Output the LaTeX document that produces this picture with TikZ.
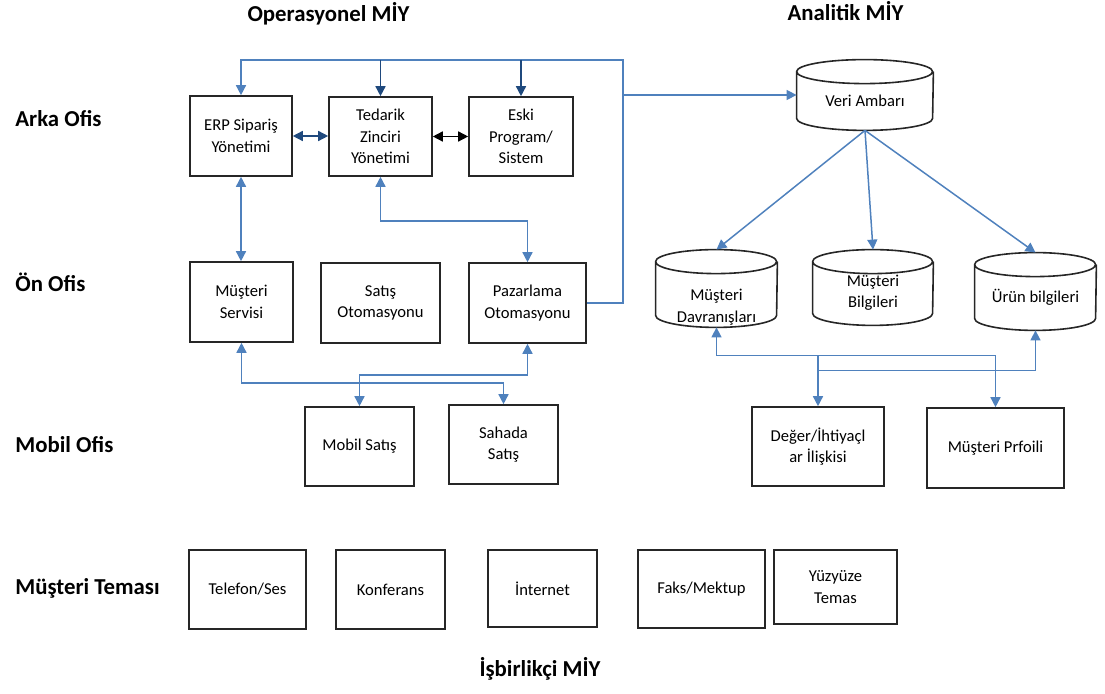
\documentclass[tikz,border=0pt]{standalone}
\usepackage{fontspec}
\setmainfont{Carlito}
\usetikzlibrary{arrows.meta}

\definecolor{lnblue}{RGB}{79,129,189}
\definecolor{dkblue}{RGB}{31,73,125}

% text of a cylinder, moved down below the cap
\newcommand{\dbtext}[2]{\raisebox{#1}[0pt][0pt]{\begin{tabular}{@{}c@{}}#2\end{tabular}}}

\tikzset{
  boxsize/.style 2 args={minimum width=#1*0.5pt, minimum height=#2*0.5pt},
  box/.style={draw=black!85, line width=0.8pt, inner sep=1pt, align=center, font=\fontsize{8.3}{10.8}\selectfont},
  db/.style={inner sep=0pt, align=center, font=\fontsize{8.3}{10.8}\selectfont},
  lbl/.style={inner sep=0pt, anchor=base west, font=\fontsize{11.4}{13}\selectfont\bfseries},
  conn/.style={draw=lnblue, line width=0.75pt},
  dkconn/.style={draw=dkblue, line width=0.75pt},
}

\begin{document}
\begin{tikzpicture}[x=0.5pt, y=-0.5pt, >={Triangle[length=5pt,width=5pt]}]
\useasboundingbox (0,0) rectangle (1105,694);

% row titles
\node[lbl, anchor=base] (opmiy) at (328.5,22) {Operasyonel MİY};
\node[lbl, anchor=base] (anmiy) at (845.5,21) {Analitik MİY};
\node[lbl] (arka) at (15,127) {Arka Ofis};
\node[lbl] (on) at (15,292) {Ön Ofis};
\node[lbl] (mobilofis) at (15,453) {Mobil Ofis};
\node[lbl] (temas) at (15,595) {Müşteri Teması};
\node[lbl, anchor=base] (isbir) at (540,677) {İşbirlikçi MİY};

% operasyonel
\node[box, boxsize={102}{80}] (erp) at (241,136) {ERP Sipariş\\Yönetimi};
\node[box, boxsize={103}{79}] (tedarik) at (380.5,136.5) {Tedarik\\Zinciri\\Yönetimi};
\node[box, boxsize={104}{79}] (eski) at (521,136.5) {Eski\\Program/\\Sistem};
\node[box, boxsize={103}{80}] (servis) at (241.5,302) {Müşteri\\Servisi};
\node[box, boxsize={119}{80}] (satis) at (380.5,303) {Satış\\Otomasyonu};
\node[box, boxsize={117}{80}] (pazar) at (527.5,303) {Pazarlama\\Otomasyonu};
\node[box, boxsize={109}{79}] (mobil) at (359.5,446.5) {Mobil Satış};
\node[box, boxsize={109}{79}] (sahada) at (503.5,444.5) {Sahada\\Satış};

% analitik
\node[db, boxsize={136}{70}] (veri) at (865,95) {\dbtext{-5.6pt}{Veri Ambarı}};
\node[db, boxsize={121}{77}] (davr) at (716.5,288.5) {\dbtext{-11.3pt}{Müşteri\\Davranışları}};
\node[db, boxsize={120}{75}] (bilgi) at (873,287.5) {\dbtext{-4.6pt}{Müşteri\\Bilgileri}};
\node[db, boxsize={121}{77}] (urun) at (1035.5,291.5) {\dbtext{-5.3pt}{Ürün bilgileri}};
\foreach \n/\r in {veri/34pt, davr/30.25pt, bilgi/30pt, urun/30.25pt}
  \draw[black!85, line width=0.8pt] ([yshift=-6pt]\n.north west) arc[start angle=180, end angle=540, x radius=\r, y radius=6pt]
    -- ([yshift=6pt]\n.south west) arc[start angle=180, end angle=360, x radius=\r, y radius=6pt]
    -- ([yshift=-6pt]\n.north east);
\node[box, boxsize={132}{79}] (deger) at (818,446.5) {Değer/İhtiyaçl\\ar İlişkisi};
\node[box, boxsize={137}{80}] (profil) at (995.5,448) {Müşteri Prfoili};

% musteri temasi
\node[box, boxsize={117}{79}] (telefon) at (247.5,589.5) {Telefon/Ses};
\node[box, boxsize={109}{79}] (konf) at (390.5,589.5) {Konferans};
\node[box, boxsize={109}{77}] (internet) at (542.5,588.5) {İnternet};
\node[box, boxsize={127}{78}] (faks) at (701.5,589) {Faks/Mektup};
\node[box, boxsize={123}{74}] (yuz) at (835.5,587) {Yüzyüze\\Temas};

% connectors
\coordinate (tr) at (623,60);
\draw[conn, ->] (pazar.east) -| (tr) -| (erp.north);
\draw[dkconn, ->] (tedarik.north |- tr) -- (tedarik.north);
\draw[dkconn, ->] (eski.north |- tr) -- (eski.north);
\draw[conn, ->] (tr |- veri.west) -- (veri.west);
\draw[dkconn, <->] (erp.east) -- (erp.east -| tedarik.west);
\draw[black, line width=0.75pt, <->] (tedarik.east) -- (eski.west);
\draw[conn, <->] (erp.south) -- (erp.south |- servis.north);
\draw[conn, <->] (tedarik.south) -- ++(0,44) -| (pazar.north);
\draw[conn, <->] (servis.south) -- ++(0,40) -| (sahada.north);
\draw[conn, <->] (pazar.south) -- ++(0,31) -| (mobil.north);

\draw[conn, ->] (veri.south) -- (davr.north);
\draw[conn, ->] (veri.south) -- (bilgi.north);
\draw[conn, ->] (veri.south) -- (urun.north);
\draw[conn, <->] (davr.south) -- ++(0,28) coordinate (dbus) -| (profil.north);
\draw[conn, <->] (urun.south) -- ++(0,40) -| (deger.north);
\draw[conn] (deger.north |- dbus) -- ++(0,15);
\end{tikzpicture}
\end{document}
